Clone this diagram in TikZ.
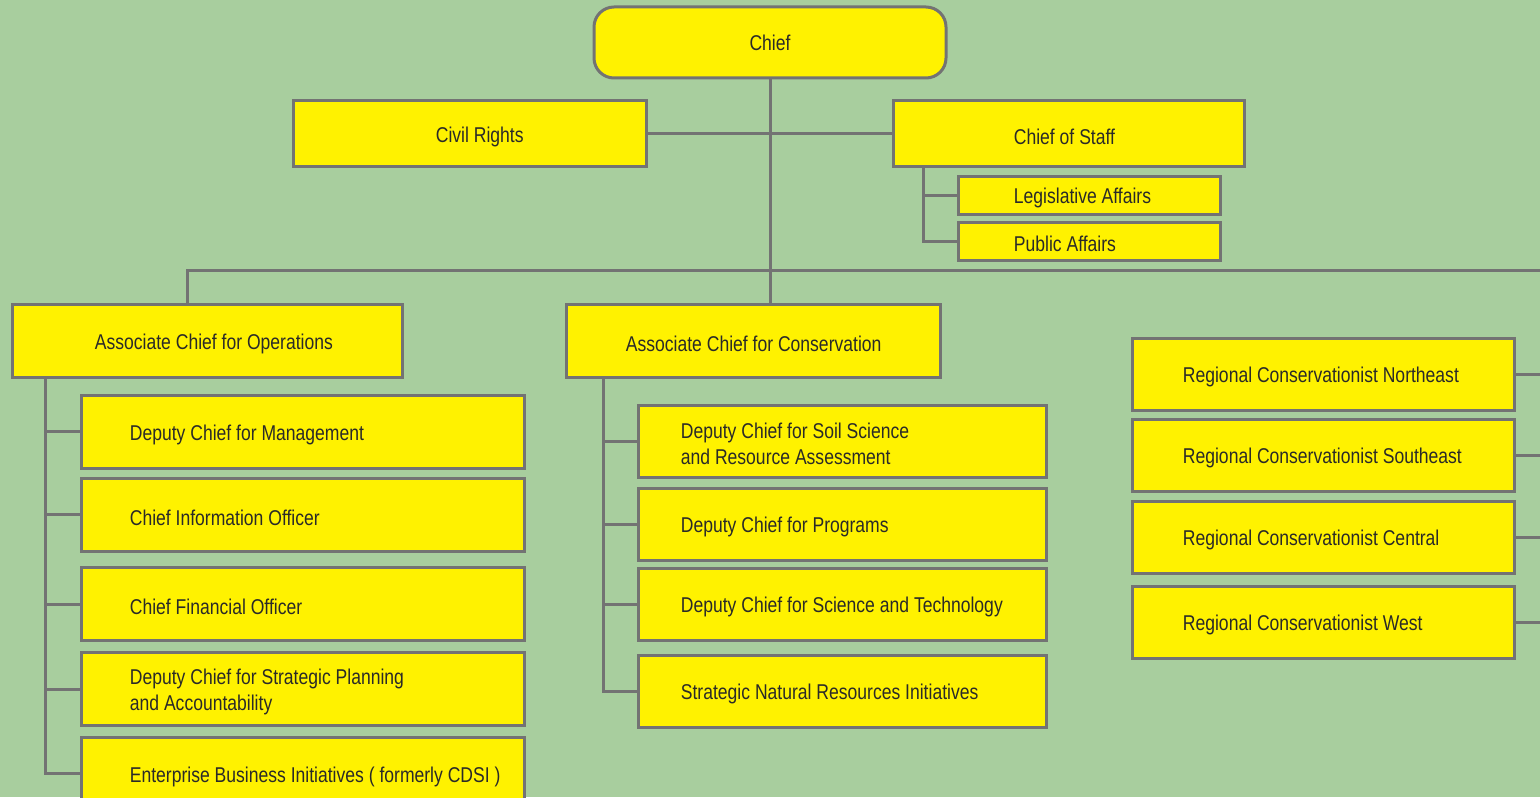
\documentclass[tikz,border=0pt]{standalone}
\usepackage{fontspec}
\newfontfamily\orgfont{Liberation Sans}[FakeStretch=0.82]
\definecolor{bggreen}{HTML}{A8CE9E}
\definecolor{boxyellow}{HTML}{FFF200}
\definecolor{linegray}{HTML}{737373}
\definecolor{txtgray}{HTML}{2A2A28}
\tikzset{
  link/.style={draw=linegray, line width=1.5pt},
  box/.style={draw=linegray, line width=1.5pt, fill=boxyellow, inner sep=0pt},
  lbl/.style={anchor=west, inner sep=0pt, align=left, text=txtgray, yshift=-1.5pt,
    font=\orgfont\fontsize{10.7}{13}\selectfont},
  opsub/.style={box, minimum width=221.5pt, minimum height=36.5pt, label={[lbl,xshift=25pt]west:#1}},
  conssub/.style={box, minimum width=204pt, minimum height=36pt, label={[lbl,xshift=22pt]west:#1}},
  region/.style={box, minimum width=191pt, minimum height=36pt, label={[lbl,xshift=26pt]west:#1}},
}
\begin{document}
\begin{tikzpicture}[x=0.5pt, y=-0.5pt]
\clip (0,0) rectangle (1540,797);
\fill[bggreen] (0,0) rectangle (1540,797);

% top
\node[box, rounded corners=10pt, minimum width=176pt, minimum height=35.5pt, text=txtgray,
  font=\orgfont\fontsize{10.7}{13}\selectfont] (chief) at (770,42.5) {Chief};
\node[box, minimum width=176.5pt, minimum height=32.5pt, label={[lbl,xshift=72pt]west:Civil Rights}] (civil) at (469.5,133.5) {};
\node[box, minimum width=175.5pt, minimum height=32.5pt, label={[lbl,xshift=61pt]west:Chief of Staff}] (staff) at (1068.5,133.5) {};
\node[box, minimum width=131pt, minimum height=19pt, label={[lbl,xshift=28.5pt]west:Legislative Affairs}] (legis) at (1089,195) {};
\node[box, minimum width=131pt, minimum height=19pt, label={[lbl,xshift=28.5pt]west:Public Affairs}] (public) at (1089,241) {};

% associate chiefs
\node[box, minimum width=195pt, minimum height=36.5pt, label={[lbl,xshift=42pt]west:Associate Chief for Operations}] (ops) at (207,340.5) {};
\node[box, minimum width=187pt, minimum height=36.5pt, label={[lbl,xshift=30.5pt]west:Associate Chief for Conservation}] (cons) at (753,340.5) {};

% operations
\node[opsub={Deputy Chief for Management}] (mgmt) at (302.5,431.5) {};
\node[opsub={Chief Information Officer}] (cio) at (302.5,514.5) {};
\node[opsub={Chief Financial Officer}] (cfo) at (302.5,604) {};
\node[opsub={Deputy Chief for Strategic Planning\\and Accountability}] (plan) at (302.5,689) {};
\node[opsub={Enterprise Business Initiatives ( formerly CDSI )}] (ebi) at (302.5,773.5) {};

% conservation
\node[conssub={Deputy Chief for Soil Science\\and Resource Assessment}] (soil) at (842,441) {};
\node[conssub={Deputy Chief for Programs}] (prog) at (842,524) {};
\node[conssub={Deputy Chief for Science and Technology}] (scitech) at (842,604) {};
\node[conssub={Strategic Natural Resources Initiatives}] (snri) at (842,691) {};

% regions
\node[region={Regional Conservationist Northeast}] (ne) at (1323,374) {};
\node[region={Regional Conservationist Southeast}] (se) at (1323,455) {};
\node[region={Regional Conservationist Central}] (central) at (1323,537) {};
\node[region={Regional Conservationist West}] (west) at (1323,622) {};

\coordinate (busend) at (1540,270);

\draw[link] (chief.south) -- (chief.south |- cons.north);
\draw[link] (civil.east) -- (staff.west);
\draw[link] ([xshift=16pt]staff.south west) |- (legis.west);
\draw[link] ([xshift=16pt]staff.south west) |- (public.west);
\draw[link] ([xshift=-10pt]ops.north) |- (busend);

\foreach \n in {mgmt,cio,cfo,plan,ebi}
  \draw[link] ([xshift=17.5pt]ops.south west) |- (\n.west);
\foreach \n in {soil,prog,scitech,snri}
  \draw[link] ([xshift=19.5pt]cons.south west) |- (\n.west);
\foreach \n in {ne,se,central,west}
  \draw[link] (\n.east) -- (\n.east -| busend);

\end{tikzpicture}
\end{document}
